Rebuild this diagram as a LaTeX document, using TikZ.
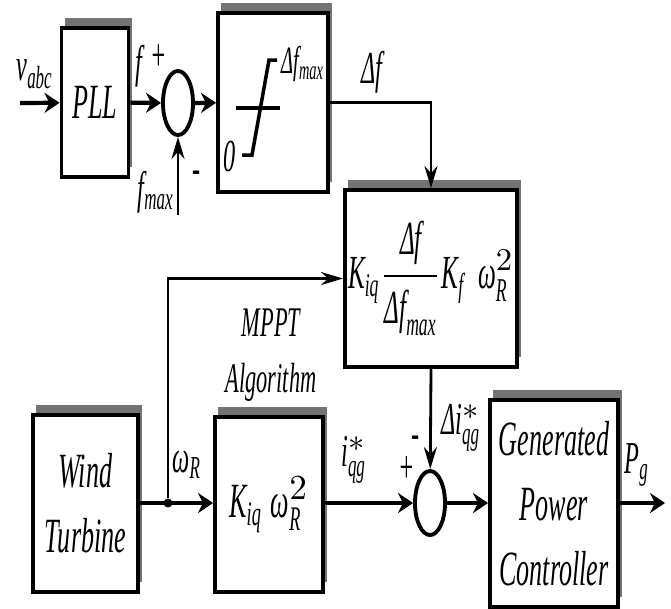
\documentclass[tikz,border=0pt]{standalone}
\usepackage{amsmath}
\usepackage{fontspec}
\setmainfont{Liberation Serif}[FakeStretch=0.53]
\usetikzlibrary{arrows.meta,shapes.geometric,shadows}
\newcommand{\boxfont}{\fontsize{14}{18.4}\selectfont\itshape}
\newcommand{\lblfont}{\fontsize{13}{16}\selectfont\itshape}
\tikzset{
  blk/.style={draw,line width=1.1pt,fill=white,inner sep=0pt,align=center,
              font=\boxfont,
              drop shadow={shadow xshift=0.035cm,shadow yshift=0.1cm,
                           opacity=1,fill=black!55}},
  sumj/.style={draw,ellipse,line width=1.1pt,fill=white,inner sep=0pt,
               minimum width=0.3cm,minimum height=0.64cm},
  lbl/.style={inner sep=0pt,font=\lblfont,align=center},
  hto/.style={-{Stealth[length=0.15cm,width=0.2cm]},line width=1.2pt},
  vto/.style={-{Stealth[length=0.22cm,width=0.13cm]},line width=0.8pt},
}
\begin{document}
\begin{tikzpicture}[x=0.01cm,y=-0.01cm]
  \useasboundingbox (0,0) rectangle (671,608);
  %% Upper path: PLL and limiter
  \node[blk,minimum width=0.67cm,minimum height=1.49cm] (pll) at (95,102.5) {PLL};
  \node[sumj] (s1) at (178,103) {};
  \node[blk,minimum width=1.1cm,minimum height=1.79cm] (sat) at (273,102.5) {};
  \draw[line width=1pt] (236,108) -- (280,108);
  \draw[line width=1pt] (242,155) -- (252,155) -- (269,60) -- (277,60);
  \node[lbl] (zero) at (230,157) {0};
  \node[lbl,font=\fontsize{11}{13}\selectfont\itshape] (dfmaxl) at (303,64)
        {Δf$_{\text{max}}$};
  \coordinate (vin) at (20,103);
  \coordinate (fin) at (178,215);
  \draw[hto] (vin) -- (pll);
  \draw[hto] (pll) -- (s1);
  \draw[hto] (s1) -- (sat);
  \draw[vto] (fin) -- (s1);
  \node[lbl] (vabc) at (35,74) {v$_{\text{abc}}$};
  \node[lbl] (fl) at (139,66) {f};
  \node[lbl] (pl1) at (159,58) {+};
  \node[lbl] (fmax) at (156,192) {f$_{\text{max}}$};
  \node[lbl] (mi1) at (197,177) {-};
  %% Frequency support gain
  \node[blk,minimum width=1.72cm,minimum height=1.77cm,
        font=\fontsize{13.5}{16}\selectfont\itshape] (gain) at (431,278.5)
        {K$_{\text{iq}}$$\dfrac{\text{Δf}}{\text{Δf}_{\text{max}}}$K$_{\text{f}}$\;ω$_{\text{R}}^{2}$};
  \draw[vto] (sat.east) -- (gain.north |- sat.east) -- (gain.north);
  \node[lbl] (dfl) at (372,72) {Δf};
  %% Lower path: turbine, MPPT and power controller
  \node[blk,minimum width=1.05cm,minimum height=1.77cm] (wt) at (85.5,503.5)
        {Wind\\Turbine};
  \node[blk,minimum width=1.08cm,minimum height=1.75cm] (mppt) at (269,504.5)
        {K$_{\text{iq}}$\,ω$_{\text{R}}^{2}$};
  \node[lbl,font=\fontsize{12}{15.9}\selectfont\itshape] (mpptl) at (271,355)
        {MPPT\\Algorithm};
  \node[sumj] (s2) at (430,503) {};
  \node[blk,minimum width=1.28cm,minimum height=2.07cm] (gpc) at (554,503.5)
        {Generated\\Power\\Controller};
  \node[circle,fill,inner sep=0pt,minimum size=0.09cm] (jr) at (168,503) {};
  \coordinate (pout) at (665,503);
  \draw[hto] (wt.east |- jr) -- (mppt.west |- jr);
  \draw[vto] (jr) -- (jr |- gain.west) -- (gain.west);
  \draw[hto] (mppt.east |- s2) -- (s2);
  \draw[vto] (gain.south) -- (s2);
  \draw[hto] (s2) -- (gpc.west |- s2);
  \draw[hto] (gpc.east |- pout) -- (pout);
  \node[lbl] (wr) at (187,465) {ω$_{\text{R}}$};
  \node[lbl] (iqg) at (354,460) {i$_{\text{qg}}^{*}$};
  \node[lbl] (pl2) at (407,470) {+};
  \node[lbl] (mi2) at (416,442) {-};
  \node[lbl] (diqg) at (461,428) {Δi$_{\text{qg}}^{*}$};
  \node[lbl] (pg) at (637,465) {P$_{\text{g}}$};
\end{tikzpicture}
\end{document}
